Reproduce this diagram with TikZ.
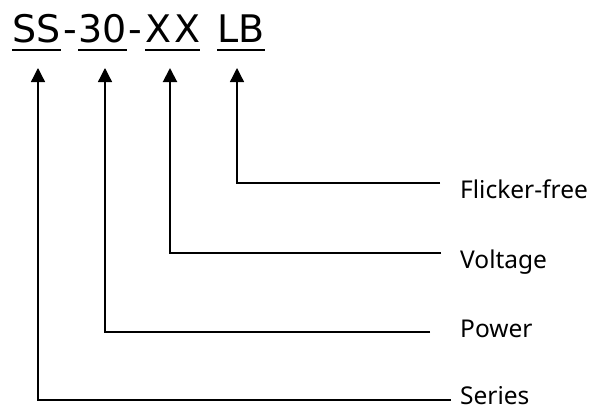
\documentclass[tikz,border=0pt]{standalone}
\usepackage{fontspec}
\setmainfont{Noto Sans}
\newfontfamily\titlefont{DejaVu Sans}
\usetikzlibrary{arrows.meta}
\begin{document}
\begin{tikzpicture}[x=1pt,y=-1pt,
  title/.style={inner sep=0pt,anchor=base west,font=\titlefont\fontsize{38}{40}\selectfont},
  lbl/.style={inner sep=0pt,anchor=base west,font=\fontsize{24.5}{28}\selectfont},
  uline/.style={line width=1.4pt},
  conn/.style={line width=1.3pt,-{Triangle[length=14pt,width=14pt]}}]
\useasboundingbox (0,0) rectangle (596,410);
% title
\node[title] (ss) at (12,42) {SS};
\node[title] (d1) at (63,42) {-};
\node[title] (p30) at (78,42) {30};
\node[title] (d2) at (128,42) {-};
\node[title] (xx) at (145,42) {X\kern3pt X};
\node[title] (lb) at (217,42) {LB};
\foreach \n in {ss,p30,xx,lb}
  \draw[uline] ([yshift=-8pt]\n.base west) -- ([yshift=-8pt]\n.base east);
% labels
\node[lbl] (flk) at (460,198) {Flicker-free};
\node[lbl] (vol) at (460,268) {Voltage};
\node[lbl] (pow) at (460,337) {Power};
\node[lbl] (ser) at (460,404) {Series};
% tips and line ends
\coordinate (tLB) at (237,68);
\coordinate (tXX) at (170,68);
\coordinate (t30) at (105,68);
\coordinate (tSS) at (38,68);
\coordinate (eF) at (440,183);
\coordinate (eV) at (441,253);
\coordinate (eP) at (430,332);
\coordinate (eS) at (451,400);
\draw[conn] (eF) -| (tLB);
\draw[conn,line width=2pt] (eV) -| (tXX);
\draw[conn] (eP) -| (t30);
\draw[conn] (eS) -| (tSS);
\end{tikzpicture}
\end{document}
